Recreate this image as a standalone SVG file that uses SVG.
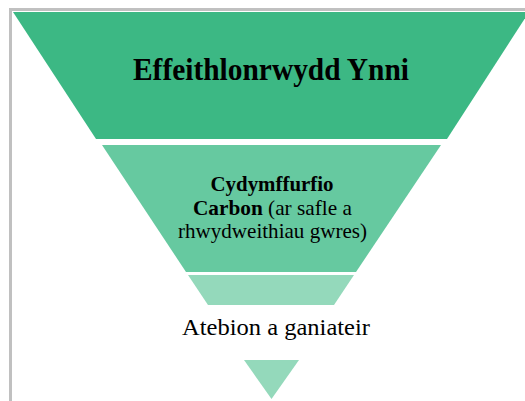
<svg xmlns="http://www.w3.org/2000/svg" width="525" height="401" viewBox="0 0 525 401">
<style>
.t{font-family:"Liberation Serif","Times New Roman",serif;fill:#000;text-anchor:middle}
.b{font-weight:bold}
.frame{fill:#c0c0c0}
</style>
<rect width="525" height="401" fill="#fff"/>
<rect class="frame" x="9" y="8" width="516" height="3"/>
<rect class="frame" x="9" y="8" width="3" height="393"/>
<g id="level1">
<polygon points="13,12 529,12 447,139 96,139" fill="#3cb884"/>
<text class="t b" x="271" y="80" font-size="31" textLength="276" lengthAdjust="spacingAndGlyphs">Effeithlonrwydd Ynni</text>
</g>
<g id="level2">
<polygon points="102,145 441,145 356,272 186,272" fill="#66c9a0"/>
<text class="t b" x="272" y="191" font-size="22" textLength="123" lengthAdjust="spacingAndGlyphs">Cydymffurfio</text>
<text class="t" x="272.5" y="215" font-size="22" textLength="159" lengthAdjust="spacingAndGlyphs"><tspan class="b">Carbon</tspan> (ar safle a</text>
<text class="t" x="272.5" y="238" font-size="22" textLength="189" lengthAdjust="spacingAndGlyphs">rhwydweithiau gwres)</text>
</g>
<g id="level3">
<polygon points="188,275 354,275 334,305 208,305" fill="#94d9bb"/>
</g>
<g id="label3">
<text class="t" x="276" y="335" font-size="23" textLength="188" lengthAdjust="spacingAndGlyphs">Atebion a ganiateir</text>
</g>
<g id="level4">
<polygon points="244,360 299,360 271.5,399" fill="#94d9bb"/>
</g>
<g id="connectors"/>
</svg>
